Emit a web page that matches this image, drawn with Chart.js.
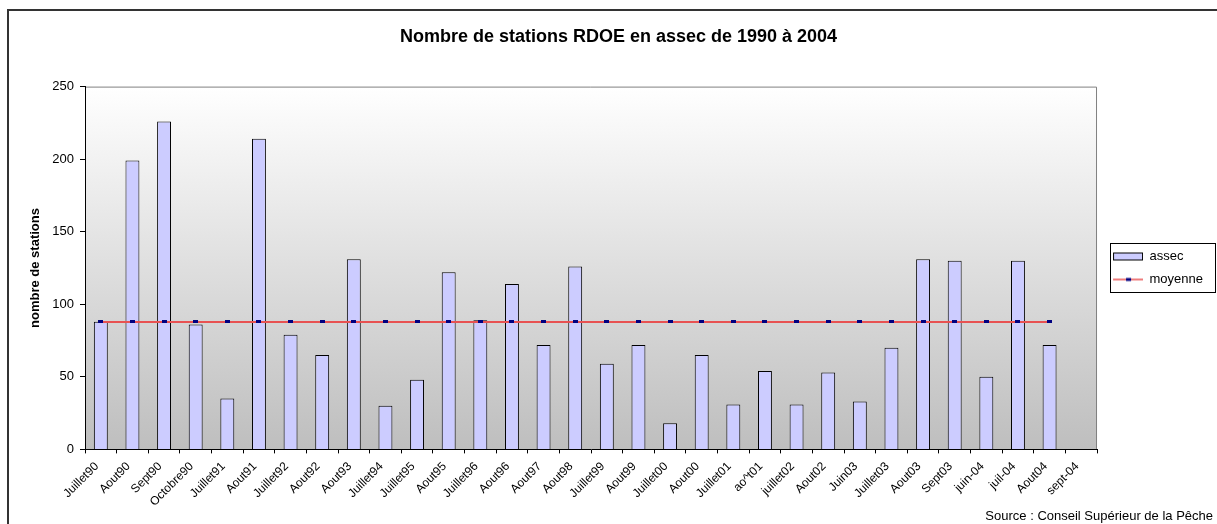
<!DOCTYPE html>
<html>
<head>
<meta charset="utf-8">
<title>Nombre de stations RDOE en assec de 1990 à 2004</title>
<script src="https://cdn.jsdelivr.net/npm/chart.js@4.4.1/dist/chart.umd.min.js"></script>
<style>
  body   { margin:0; overflow:hidden; background:#fff; }
  #wrap  { position:relative; width:1217px; height:524px; overflow:hidden; }
  #frame { position:absolute; left:7px; top:9px; width:1300px; height:600px; border-top:2px solid #333; border-left:2px solid #333; }
  #wrap canvas { position:absolute; left:0; top:0; }
</style>
</head>
<body>
<div id="wrap">
  <div id="frame"></div>
  <canvas id="chart" width="1217" height="524"></canvas>
</div>
<script>
// campagnes (une par mois d'observation)
var campagnes = ['Juillet90','Aout90','Sept90','Octobre90','Juillet91','Aout91','Juillet92','Aout92',
  'Aout93','Juillet94','Juillet95','Aout95','Juillet96','Aout96','Aout97','Aout98',
  'Juillet99','Aout99','Juillet00','Aout00','Juillet01','ao^t01','juillet02','Aout02',
  'Juin03','Juillet03','Aout03','Sept03','juin-04','juil-04','Aout04','sept-04'];

// nombre de stations en assec
var assec = [88,199,226,86,35,214,79,65,
  131,30,48,122,89,114,72,126,
  59,72,18,65,31,54,31,53,
  33,70,131,130,50,130,72,null];

// moyenne sur la periode
var moyenne = [87.8,87.8,87.8,87.8,87.8,87.8,87.8,87.8,
  87.8,87.8,87.8,87.8,87.8,87.8,87.8,87.8,
  87.8,87.8,87.8,87.8,87.8,87.8,87.8,87.8,
  87.8,87.8,87.8,87.8,87.8,87.8,87.8,null];

var yTicks = [0, 50, 100, 150, 200, 250];

var FONT = "'Liberation Sans', Arial, sans-serif";
Chart.defaults.font.family = FONT;
Chart.defaults.color = '#000';

function makeSwatch(kind) {
  var c = document.createElement('canvas');
  c.width = 36; c.height = 10;
  var x = c.getContext('2d');
  if (kind == 'bar') {
    x.fillStyle = '#ccccff';
    x.fillRect(6.5, 1.5, 29, 7);
    x.strokeStyle = '#000';
    x.lineWidth = 1;
    x.strokeRect(6.5, 1.5, 29, 7);
  } else {
    x.strokeStyle = 'rgb(232,82,82)';
    x.lineWidth = 1.5;
    x.beginPath(); x.moveTo(6, 5); x.lineTo(36, 5); x.stroke();
    x.fillStyle = '#000080';
    x.fillRect(19, 3.5, 5, 3);
  }
  return c;
}

function makeMarker() {
  var c = document.createElement('canvas');
  c.width = 5; c.height = 3;
  var x = c.getContext('2d');
  x.fillStyle = '#000080';
  x.fillRect(0, 0, 5, 3);
  return c;
}

var barSwatch = makeSwatch('bar');
var lineSwatch = makeSwatch('line');

var plotDeco = {
  id: 'plotDeco',
  beforeDraw: function(chart) {
    var a = chart.chartArea, ctx = chart.ctx;
    var g = ctx.createLinearGradient(0, a.top, 0, a.bottom);
    g.addColorStop(0, '#ffffff');
    g.addColorStop(1, '#bebebe');
    ctx.save();
    ctx.fillStyle = g;
    ctx.fillRect(a.left, a.top, a.right - a.left, a.bottom - a.top);
    ctx.strokeStyle = '#808080';
    ctx.lineWidth = 1;
    ctx.beginPath();
    ctx.moveTo(a.left, a.top + 0.5);
    ctx.lineTo(a.right - 0.5, a.top + 0.5);
    ctx.lineTo(a.right - 0.5, a.bottom);
    ctx.stroke();
    ctx.restore();
  },
  afterDraw: function(chart) {
    var boxes = chart.legend.legendHitBoxes;
    if (!boxes || !boxes.length) return;
    var first = boxes[0], last = boxes[boxes.length - 1];
    var x0 = Math.round(first.left + 3), y0 = Math.round(first.top - 7);
    var x1 = chart.width - 2, y1 = Math.round(last.top + last.height + 6);
    var ctx = chart.ctx;
    ctx.save();
    ctx.strokeStyle = '#000';
    ctx.lineWidth = 1;
    ctx.strokeRect(x0 + 0.5, y0 + 0.5, x1 - x0, y1 - y0);
    ctx.restore();
  }
};

new Chart(document.getElementById('chart'), {
  data: {
    labels: campagnes,
    datasets: [
      {
        type: 'line',
        label: 'moyenne',
        data: moyenne,
        borderColor: 'rgb(232,82,82)',
        borderWidth: 2,
        pointStyle: makeMarker(),
        pointRadius: 2,
        fill: false,
        tension: 0
      },
      {
        type: 'bar',
        label: 'assec',
        data: assec,
        backgroundColor: '#ccccff',
        borderColor: '#000',
        borderWidth: 1,
        barPercentage: 0.44,
        categoryPercentage: 1.0
      }
    ]
  },
  options: {
    responsive: false,
    animation: false,
    events: [],
    layout: { padding: { left: 24, right: 4, top: 0, bottom: 0 } },
    scales: {
      x: {
        offset: true,
        grid: { display: true, offset: true, drawOnChartArea: false, tickLength: 4, color: '#000' },
        border: { display: true, color: '#000', width: 1 },
        ticks: { autoSkip: false, maxRotation: 45, minRotation: 45, padding: 6, labelOffset: -4, font: { size: 12 }, color: '#000' },
        afterFit: function(s) { s.height = 59; }
      },
      y: {
        min: 0,
        max: 250,
        afterBuildTicks: function(s) { s.ticks = yTicks.map(function(v) { return { value: v }; }); },
        grid: { display: true, drawOnChartArea: false, tickLength: 5, color: '#000' },
        border: { display: true, color: '#000', width: 1 },
        ticks: { padding: 6, font: { size: 13 }, color: '#000' },
        title: { display: true, text: 'nombre de stations', font: { size: 13, weight: 'bold' }, padding: { top: 4, bottom: 0 } },
        afterFit: function(s) { s.width = 61; }
      }
    },
    plugins: {
      title: {
        display: true,
        text: 'Nombre de stations RDOE en assec de 1990 à 2004',
        font: { size: 18, weight: 'bold' },
        color: '#000',
        padding: { top: 26, bottom: 39 }
      },
      subtitle: {
        display: true,
        position: 'bottom',
        align: 'end',
        text: 'Source : Conseil Supérieur de la Pêche',
        font: { size: 13 },
        color: '#000',
        padding: { top: 0, bottom: 0 }
      },
      legend: {
        position: 'right',
        fullSize: false,
        reverse: true,
        labels: {
          usePointStyle: true,
          pointStyleWidth: 36,
          boxHeight: 10,
          padding: 10,
          font: { size: 13 },
          color: '#000',
          generateLabels: function(chart) {
            var items = Chart.defaults.plugins.legend.labels.generateLabels(chart);
            items.forEach(function(it) {
              it.pointStyle = it.datasetIndex === 0 ? lineSwatch : barSwatch;
            });
            return items;
          }
        }
      },
      tooltip: { enabled: false }
    }
  },
  plugins: [plotDeco]
});
</script>
</body>
</html>
